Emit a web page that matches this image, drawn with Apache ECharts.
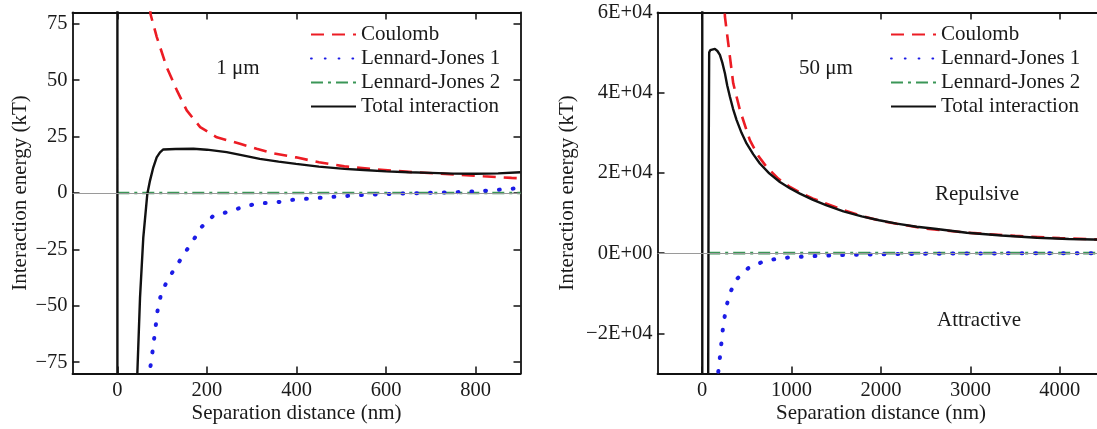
<!DOCTYPE html>
<html>
<head>
<meta charset="utf-8">
<script src="https://cdn.jsdelivr.net/npm/echarts@6/dist/echarts.min.js"></script>
<style>
  html, body { margin: 0; padding: 0; background: #fff; overflow: hidden; }
  #chart { width: 1110px; height: 429px; }
</style>
</head>
<body>
<div id="chart"></div>
<script>
// ---------- Left panel (1 µm) ----------
const coulomb1X = [73, 74.5, 88, 110, 133, 155, 185, 222, 274, 311, 350, 399, 450, 507, 580, 661, 720, 765, 817, 880, 900];
const coulomb1Y = [82, 79, 69.2, 55.9, 45.5, 36.6, 29.2, 24.7, 21.8, 19.6, 17.5, 15.8, 13.6, 11.8, 10.4, 9.2, 8.6, 8.0, 7.4, 6.7, 6.5];

const lj1X1 = [69, 71.4, 76.8, 85.7, 90.2, 97.5, 111.6, 130.4, 149.6, 169.6, 188.4, 214.3, 250, 281.3, 314.7, 354, 392, 461.6, 534.8, 608, 680, 750, 787, 821, 854, 888, 900];
const lj1Y1 = [-95, -80.3, -73.2, -59, -51.6, -45, -38.7, -32.8, -26.9, -20.9, -15, -10.1, -8.2, -6.1, -4.6, -4.2, -3, -2, -1, -0.4, 0, 0.3, 0.6, 1.0, 1.5, 2.0, 2.1];

const lj2X1 = [0, 900];
const lj2Y1 = [0, 0];

const total1X = [0, 0.5, 42, 44.6, 50.7, 58, 67, 73, 80.4, 87.9, 95.3, 102.7, 130, 170, 200, 244, 280, 318, 360, 399, 450, 507, 550, 600, 650, 700, 750, 800, 850, 900];
const total1Y = [2000, -2000, -100, -80.5, -46.5, -19.8, -0.4, 5.5, 11.4, 15.8, 18, 19.3, 19.5, 19.6, 19.2, 18.1, 16.7, 15.1, 13.9, 12.9, 11.7, 10.7, 10.2, 9.6, 9.2, 8.9, 8.6, 8.5, 8.7, 9.2];

// ---------- Right panel (50 µm) ----------
const coulomb2X = [245, 254, 291, 347, 422, 533, 620, 720, 850, 981, 1110, 1241, 1420, 1588, 1800, 2000, 2500, 3000, 3500, 4000, 4500];
const coulomb2Y = [65000, 59000, 52350, 42350, 35675, 28175, 24500, 21500, 18600, 16500, 14900, 13600, 12100, 10675, 9200, 8000, 6100, 5050, 4300, 3750, 3350];

const lj1X2 = [175, 179, 198, 235, 265, 302, 377, 514, 690, 869, 1050, 1223, 1409, 1600, 1800, 2100, 2500, 3000, 3500, 4500];
const lj1Y2 = [-33000, -29750, -26000, -18075, -13900, -10400, -6650, -3750, -2000, -1250, -950, -750, -600, -450, -350, -250, -150, -80, -40, 0];

const lj2X2 = [67, 4500];
const lj2Y2 = [0, 0];

const total2X = [0, 2, 60, 67, 72, 78, 90, 110, 142, 170, 198, 225, 254, 280, 310, 345, 385, 440, 496, 570, 645, 750, 869, 980, 1093, 1240, 1392, 1580, 1784, 1980, 2176, 2400, 2600, 2960, 3350, 3745, 4100, 4500];
const total2Y = [200000, -200000, -40000, -30000, 20000, 50000, 50600, 50900, 50925, 50400, 49425, 47500, 44850, 41800, 39000, 36000, 33175, 30000, 27350, 24700, 22350, 19900, 17750, 16200, 14850, 13300, 11925, 10400, 9175, 8200, 7350, 6600, 6100, 5100, 4400, 3850, 3550, 3350];

// ---------- Ticks ----------
const xTicksLeft = [0, 200, 400, 600, 800];
const yTicksLeft = [-75, -50, -25, 0, 25, 50, 75];
const yTickLabelsLeft = ['\u221275', '\u221250', '\u221225', '0', '25', '50', '75'];
const xTicksRight = [0, 1000, 2000, 3000, 4000];
const yTicksRight = [-20000, 0, 20000, 40000, 60000];
const yTickLabelsRight = ['\u22122E+04', '0E+00', '2E+04', '4E+04', '6E+04'];

const seriesNames = ['Coulomb', 'Lennard-Jones 1', 'Lennard-Jones 2', 'Total interaction'];

// ---------- Build ----------
const zip = (xs, ys) => xs.map((x, i) => [x, ys[i]]);
const FONT = 'Liberation Serif, Times New Roman, serif';
const TXT = '#1a1a1a';
const AX = '#111';
const NAME_SIZE = 21;

function xAx(grid, min, max, ticks, pos, withLabel) {
  return {
    type: 'value', gridIndex: grid, min: min, max: max, position: pos,
    axisLine: { show: true, onZero: false, lineStyle: { color: AX, width: 1.8 } },
    axisTick: { show: true, inside: true, length: 7, customValues: ticks, lineStyle: { color: AX, width: 1.5 } },
    axisLabel: { show: withLabel, customValues: ticks, margin: 7, fontFamily: FONT, fontSize: 20.5, color: TXT,
      formatter: function (v) { return String(v); } },
    splitLine: { show: false },
    name: withLabel ? 'Separation distance (nm)' : '',
    nameLocation: 'middle', nameGap: 29, nameMoveOverlap: false,
    nameTextStyle: { fontFamily: FONT, fontSize: NAME_SIZE, color: TXT }
  };
}
function yAx(grid, min, max, ticks, labels, pos, withLabel, nameGap) {
  return {
    type: 'value', gridIndex: grid, min: min, max: max, position: pos,
    axisLine: { show: true, onZero: false, lineStyle: { color: AX, width: 1.8 } },
    axisTick: { show: true, inside: true, length: 7, customValues: ticks, lineStyle: { color: AX, width: 1.5 } },
    axisLabel: {
      show: withLabel, customValues: ticks, margin: 5, fontFamily: FONT, fontSize: 20.5, color: TXT,
      formatter: function (v) { const i = ticks.indexOf(v); return i >= 0 ? labels[i] : ''; }
    },
    splitLine: { show: false },
    name: withLabel ? 'Interaction energy (kT)' : '',
    nameLocation: 'middle', nameGap: nameGap, nameMoveOverlap: false,
    nameTextStyle: { fontFamily: FONT, fontSize: NAME_SIZE, color: TXT }
  };
}

const styles = {
  'Coulomb': { color: '#ec1c24', width: 2.6, type: [13, 8], cap: 'butt' },
  'Lennard-Jones 1': { color: '#1c1ce6', width: 4, type: [0.8, 13], cap: 'round' },
  'Lennard-Jones 2': { color: '#3a9657', width: 2.6, type: [12, 5, 3, 5], cap: 'butt' },
  'Total interaction': { color: '#111111', width: 2.4, type: 'solid', cap: 'butt' }
};

function mkSeries(name, data, xi, yi) {
  const s = styles[name];
  return {
    name: name, type: 'line', xAxisIndex: xi, yAxisIndex: yi, data: data,
    symbol: 'none', showSymbol: false, smooth: false, clip: true, z: 3,
    lineStyle: { color: s.color, width: s.width, type: s.type, cap: s.cap },
    itemStyle: { color: s.color }
  };
}
function zeroLine(xi, yi) {
  return {
    name: 'zero', type: 'line', xAxisIndex: xi, yAxisIndex: yi, data: [], z: 1, silent: true,
    markLine: {
      silent: true, symbol: ['none', 'none'], label: { show: false },
      lineStyle: { color: '#9a9a9a', width: 1.2, type: 'solid' },
      data: [{ yAxis: 0 }]
    }
  };
}

function mkLegend(left) {
  return {
    orient: 'vertical', left: left, top: 19, itemWidth: 45, itemHeight: 14, itemGap: 3,
    data: seriesNames, selectedMode: false,
    itemStyle: { color: 'rgba(0,0,0,0)', borderColor: 'rgba(0,0,0,0)', borderWidth: 0, opacity: 0 },
    textStyle: { fontFamily: FONT, fontSize: NAME_SIZE, color: TXT, lineHeight: 21 }
  };
}

const chart = echarts.init(document.getElementById('chart'), null, { renderer: 'canvas' });

const annStyle = (t) => ({ text: t, font: NAME_SIZE + 'px ' + FONT, fill: TXT, align: 'center', verticalAlign: 'middle', textAlign: 'center', textVerticalAlign: 'middle' });

const option = {
  animation: false,
  backgroundColor: '#ffffff',
  grid: [
    { left: 72.5, top: 12.5, width: 448, height: 361, outerBoundsMode: 'none' },
    { left: 657.5, top: 12.5, width: 447, height: 361, outerBoundsMode: 'none' }
  ],
  xAxis: [
    xAx(0, -100, 900, xTicksLeft, 'bottom', true),
    xAx(0, -100, 900, xTicksLeft, 'top', false),
    xAx(1, -500, 4500, xTicksRight, 'bottom', true),
    xAx(1, -500, 4500, xTicksRight, 'top', false)
  ],
  yAxis: [
    yAx(0, -80, 80, yTicksLeft, yTickLabelsLeft, 'left', true, 42),
    yAx(0, -80, 80, yTicksLeft, yTickLabelsLeft, 'right', false, 0),
    yAx(1, -30000, 60000, yTicksRight, yTickLabelsRight, 'left', true, 80),
    yAx(1, -30000, 60000, yTicksRight, yTickLabelsRight, 'right', false, 0)
  ],
  legend: [mkLegend(305), mkLegend(885)],
  series: [
    zeroLine(0, 0),
    mkSeries('Lennard-Jones 2', zip(lj2X1, lj2Y1), 0, 0),
    mkSeries('Lennard-Jones 1', zip(lj1X1, lj1Y1), 0, 0),
    mkSeries('Coulomb', zip(coulomb1X, coulomb1Y), 0, 0),
    mkSeries('Total interaction', zip(total1X, total1Y), 0, 0),
    zeroLine(2, 2),
    mkSeries('Lennard-Jones 2', zip(lj2X2, lj2Y2), 2, 2),
    mkSeries('Lennard-Jones 1', zip(lj1X2, lj1Y2), 2, 2),
    mkSeries('Coulomb', zip(coulomb2X, coulomb2Y), 2, 2),
    mkSeries('Total interaction', zip(total2X, total2Y), 2, 2)
  ],
  graphic: [
    { type: 'text', x: 238, y: 68, style: annStyle('1 \u03bcm') },
    { type: 'text', x: 826, y: 68, style: annStyle('50 \u03bcm') },
    { type: 'text', x: 977, y: 194, style: annStyle('Repulsive') },
    { type: 'text', x: 979, y: 320, style: annStyle('Attractive') }
  ]
};
chart.setOption(option);
</script>
</body>
</html>
